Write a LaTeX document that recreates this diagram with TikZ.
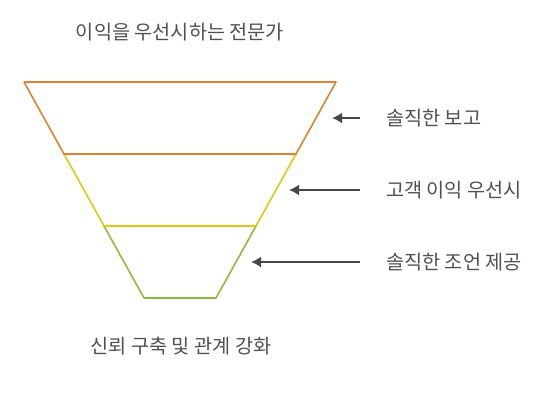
\documentclass[tikz,border=0pt]{standalone}
\usepackage{fontspec}
\usepackage{xcolor}
\setmainfont{Noto Sans CJK KR}
\usetikzlibrary{arrows.meta, calc, positioning}
\definecolor{funnelorange}{RGB}{224,129,47}
\definecolor{funnelyellow}{RGB}{227,201,14}
\definecolor{funnelgreen}{RGB}{143,187,58}
\definecolor{arrowgray}{RGB}{71,71,71}
\definecolor{textgray}{RGB}{80,80,80}
\tikzset{
    lvl/.style={line width=1.6pt, line cap=round, line join=round},
    lbl/.style={text=textgray, font=\fontsize{19.7}{22}\selectfont, inner sep=0pt},
    caption/.style={text=textgray, font=\fontsize{19.7}{22}\selectfont, inner sep=0pt},
    arr/.style={arrowgray, line width=2.2pt, -{Latex[length=10pt, width=11pt]}, shorten <=26pt}
}
\begin{document}
\begin{tikzpicture}[x=1pt, y=-1pt, >=Stealth]
    \useasboundingbox (0,0) rectangle (553,406);

    % Funnel outline
    \coordinate (a1) at (24,82);  \coordinate (b1) at (336,82);
    \coordinate (a2) at (64,154); \coordinate (b2) at (296,154);
    \coordinate (a3) at (104,226); \coordinate (b3) at (256,226);
    \coordinate (a4) at (144,298); \coordinate (b4) at (216,298);

    \draw[lvl, funnelorange] (a2) -- (a1) -- (b1) -- (b2) -- cycle;
    \draw[lvl, funnelyellow] (a2) -- (a3) -- (b3) -- (b2);
    \draw[lvl, funnelgreen] (a3) -- (a4) -- (b4) -- (b3);
    \draw[lvl, funnelorange] (a2) -- (b2);
    \draw[lvl, funnelyellow] (a3) -- (b3);

    % Captions
    \node[caption] (top) at (180,32) {이익을 우선시하는 전문가};
    \node[caption] (bottom) at (181,346) {신뢰 구축 및 관계 강화};

    % Labels
    \node[lbl, anchor=west] (l1) at (386,118) {솔직한 보고};
    \node[lbl, anchor=west] (l2) at (386,190) {고객 이익 우선시};
    \node[lbl, anchor=west] (l3) at (386,262) {솔직한 조언 제공};

    % Arrow tips
    \coordinate (t1) at (332,118);
    \coordinate (t2) at (289,190);
    \coordinate (t3) at (251,262);

    \foreach \i in {1,2,3}
        \draw[arr] (l\i.west) -- (t\i);
\end{tikzpicture}
\end{document}
